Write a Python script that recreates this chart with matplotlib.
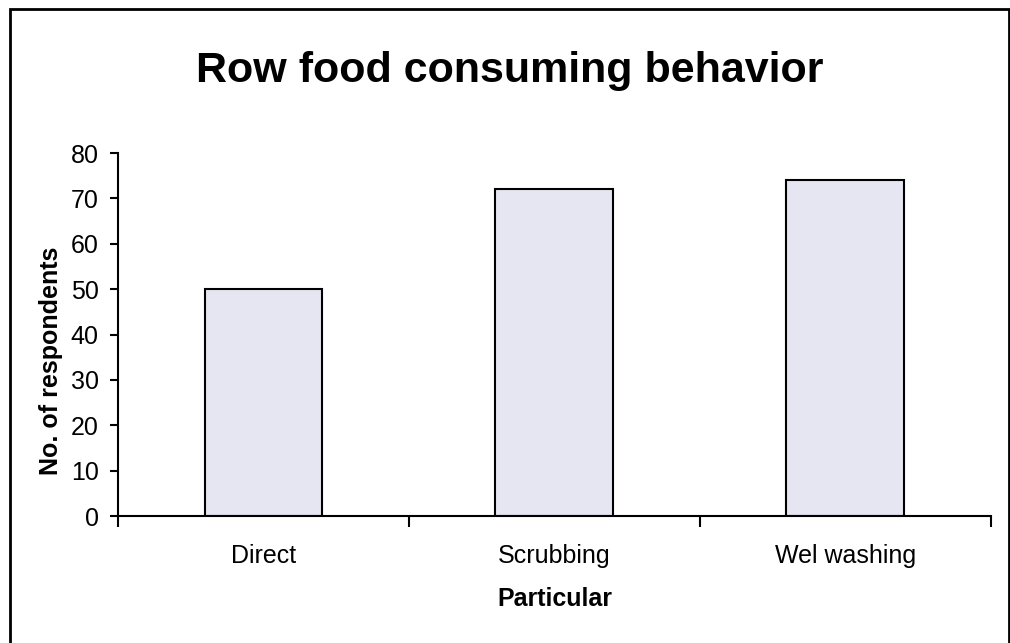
import matplotlib.pyplot as plt
from matplotlib.patches import Rectangle
import numpy as np

plt.rcParams['font.family'] = ['Liberation Sans', 'DejaVu Sans']

categories = ['Direct', 'Scrubbing', 'Wel washing']
respondents = [50, 72, 74]

fig = plt.figure(figsize=(10.1, 6.43), dpi=100)
ax = fig.add_axes([0.1168, 0.1975, 0.8642, 0.5645])

x = np.arange(len(categories))
ax.bar(x, respondents, width=0.405, color='#e6e6f2', edgecolor='black', linewidth=1.5, zorder=2)

ax.set_xlim(-0.5, len(categories) - 0.5)
ax.set_ylim(0, 80)
ax.set_yticks(range(0, 81, 10))
ax.set_xticks(np.arange(-0.5, len(categories), 1.0))
ax.set_xticklabels([])
ax.set_xticks(x, minor=True)
ax.set_xticklabels(categories, minor=True)
ax.tick_params(axis='x', which='minor', length=0, pad=20, labelsize=18)
ax.tick_params(axis='x', which='major', length=8, width=1.5, direction='out')
ax.tick_params(axis='y', length=6, width=1.5, direction='out', labelsize=18, pad=8)

for s in ['top', 'right']:
    ax.spines[s].set_visible(False)
for s in ['left', 'bottom']:
    ax.spines[s].set_linewidth(1.5)

ax.set_xlabel('Particular', fontsize=18, fontweight='bold', labelpad=14)
ax.set_ylabel('No. of respondents', fontsize=18, fontweight='bold')
ax.yaxis.set_label_coords(-0.063, 0.427)
fig.text(0.505, 0.89, 'Row food consuming behavior', ha='center', va='center',
         fontsize=31, fontweight='bold')

fig.patches.append(Rectangle((10 / 1010, -0.01), 999 / 1010, 1 - 9 / 643 + 0.01,
                             transform=fig.transFigure, fill=False,
                             edgecolor='black', linewidth=2))

fig.savefig('out.png', dpi=100)
